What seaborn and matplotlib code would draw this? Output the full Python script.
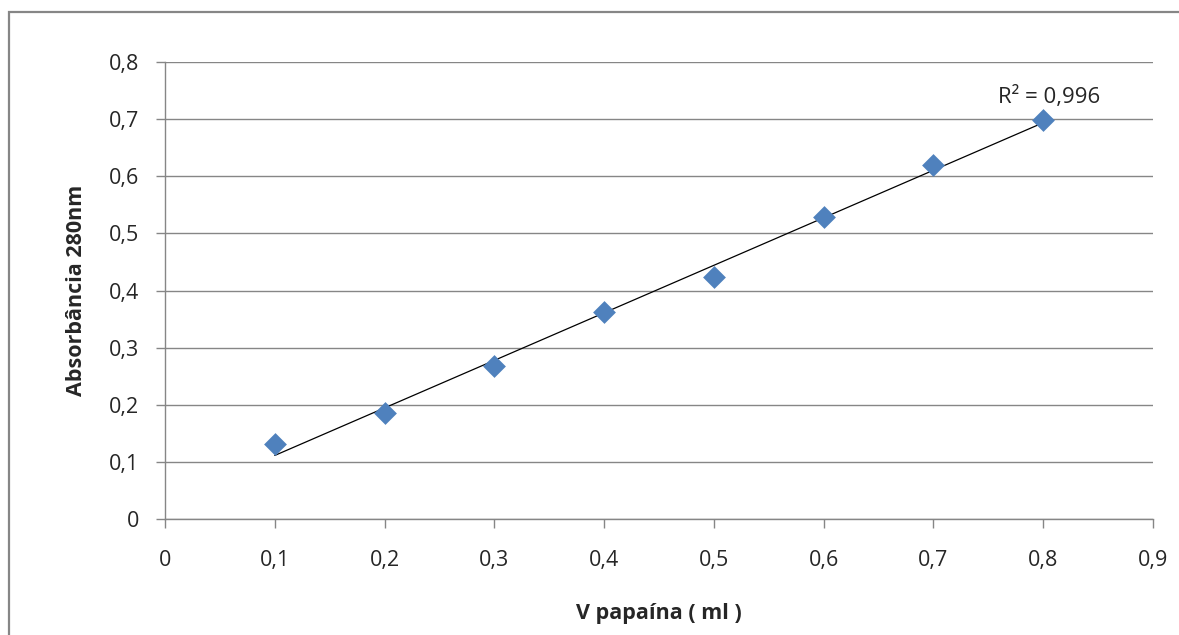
import numpy as np
import pandas as pd
import matplotlib
matplotlib.use("Agg")
import matplotlib.pyplot as plt
from matplotlib.patches import Rectangle
from matplotlib.ticker import FuncFormatter
import seaborn as sns

# Papain volume (ml) and absorbance at 280 nm
volume_ml = [0.1, 0.2, 0.3, 0.4, 0.5, 0.6, 0.7, 0.8]
absorbance = [0.131, 0.186, 0.268, 0.363, 0.424, 0.529, 0.620, 0.699]
x_ticks = [0, 0.1, 0.2, 0.3, 0.4, 0.5, 0.6, 0.7, 0.8, 0.9]
y_ticks = [0, 0.1, 0.2, 0.3, 0.4, 0.5, 0.6, 0.7, 0.8]

df = pd.DataFrame({"V": volume_ml, "A": absorbance})

sns.set_theme(style="white")
plt.rcParams["font.family"] = ["Open Sans", "DejaVu Sans"]

fig = plt.figure(figsize=(11.79, 6.35), dpi=100)
ax = fig.add_axes([165 / 1179, 1 - 519 / 635, (1153 - 165) / 1179, (519 - 62) / 635])

grey = "#868686"
text_col = "#262626"

# outer chart frame
fig.patches.append(Rectangle((9 / 1179, -0.05), 1.2, (635 - 12) / 635 + 0.05,
                             transform=fig.transFigure, fill=False,
                             edgecolor=grey, linewidth=1.6, zorder=0))

# linear trendline over the data range
sns.regplot(data=df, x="V", y="A", ax=ax, scatter=False, ci=None, truncate=True,
            line_kws=dict(color="black", linewidth=0.9, zorder=2))
sns.scatterplot(data=df, x="V", y="A", ax=ax, marker="D", s=135,
                color="#4F81BD", edgecolor="#4F81BD", linewidth=0, zorder=3)

slope, intercept = np.polyfit(volume_ml, absorbance, 1)
y = np.array(absorbance)
resid = y - (slope * np.array(volume_ml) + intercept)
r2 = 1 - np.sum(resid ** 2) / np.sum((y - y.mean()) ** 2)
ax.text(0.805, 0.739, ("R² = %.3f" % r2).replace(".", ","), ha="center", va="center",
        fontsize=16, color=text_col)

ax.set_xlim(0, 0.9)
ax.set_ylim(0, 0.8)
ax.set_xticks(x_ticks)
ax.set_yticks(y_ticks)
fmt = FuncFormatter(lambda v, p: "0" if abs(v) < 1e-9 else ("%g" % round(v, 2)).replace(".", ","))
ax.xaxis.set_major_formatter(fmt)
ax.yaxis.set_major_formatter(fmt)

ax.grid(axis="y", color=grey, linewidth=1)
ax.grid(axis="x", visible=False)
for side in ["top", "right"]:
    ax.spines[side].set_visible(False)
for side in ["left", "bottom"]:
    ax.spines[side].set_color(grey)
    ax.spines[side].set_linewidth(1)

ax.tick_params(axis="both", which="major", direction="out", length=6.5, width=1,
               color=grey, labelsize=15.5, labelcolor=text_col, bottom=True, left=True)
ax.tick_params(axis="x", pad=16)
ax.tick_params(axis="y", pad=12)

ax.set_xlabel("V papaína ( ml )", fontsize=15.5, fontweight="bold", color=text_col, labelpad=23)
ax.set_ylabel("Absorbância 280nm", fontsize=15.5, fontweight="bold", color=text_col, labelpad=16)

fig.savefig("out.png", dpi=100)
